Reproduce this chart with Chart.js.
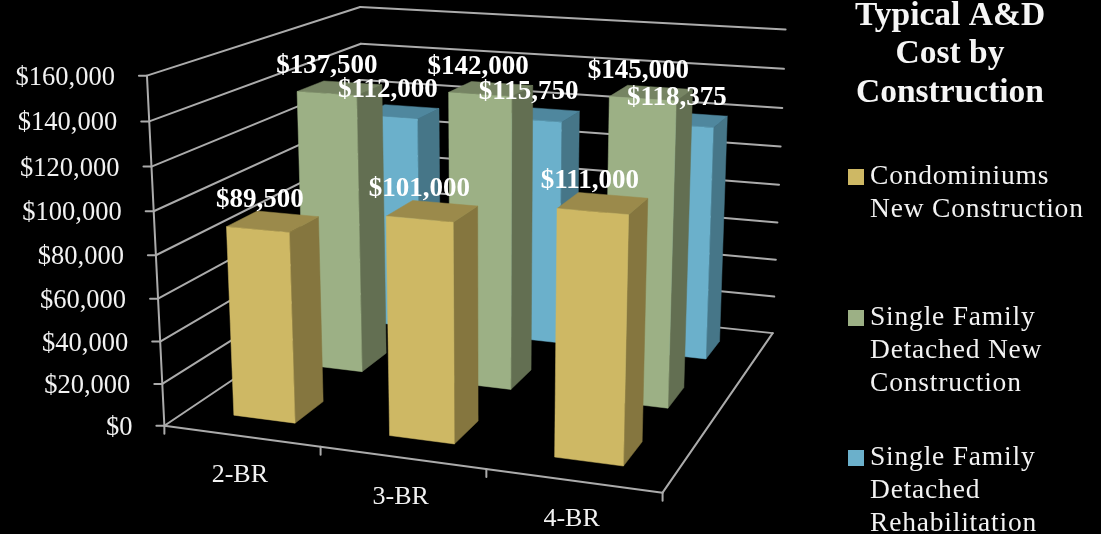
<!DOCTYPE html>
<html>
<head>
<meta charset="utf-8">
<title>Typical A&amp;D Cost by Construction</title>
<script src="https://cdn.jsdelivr.net/npm/chart.js@4"></script>
<style>
  html, body { margin: 0; padding: 0; background: #000; }
  canvas { display: block; }
</style>
</head>
<body>
<canvas id="chart" width="1101" height="534"></canvas>
<script>
const categories = ['2-BR', '3-BR', '4-BR'];
const seriesNames = ['Condominiums New Construction', 'Single Family Detached New Construction', 'Single Family Detached Rehabilitation'];
const condominiumsNew = [89500, 101000, 111000];
const singleFamilyNew = [137500, 142000, 145000];
const singleFamilyRehab = [112000, 115750, 118375];
const titleLines = ['Typical A&D', 'Cost by', 'Construction'];
const legendLines = [['Condominiums', 'New Construction'], ['Single Family', 'Detached New', 'Construction'], ['Single Family', 'Detached', 'Rehabilitation']];

const SERIF = '"Liberation Serif", serif';
const faces = [
  { front: '#CEB864', side: '#85763F', top: '#9B8A4B' },
  { front: '#9CB085', side: '#636F52', top: '#768463' },
  { front: '#6BB0CB', side: '#467688', top: '#4F879E' }
];
const frameColor = '#ABABAB';

// Camera calibration: where the corners of the unit plot box land on the canvas.
// Each entry is [across, depth, height, canvasX, canvasY].
const boxCorners = [
  [0, 0, 0, 163, 426], [1, 0, 0, 663, 492], [1, 1, 0, 772, 334], [0, 1, 0, 367, 290],
  [0, 0, 1, 148, 76], [1, 1, 1, 786, 29], [0, 1, 1, 359, 7]
];

function solveCamera(corners) {
  const rows = [], rhs = [];
  corners.forEach(([X, Y, Z, x, y]) => {
    rows.push([X, Y, Z, 1, 0, 0, 0, 0, -x * X, -x * Y, -x * Z]); rhs.push(x);
    rows.push([0, 0, 0, 0, X, Y, Z, 1, -y * X, -y * Y, -y * Z]); rhs.push(y);
  });
  const n = 11;
  const M = [];
  for (let i = 0; i < n; i++) {
    const row = new Array(n + 1).fill(0);
    rows.forEach((r, k) => {
      for (let j = 0; j < n; j++) row[j] += r[i] * r[j];
      row[n] += r[i] * rhs[k];
    });
    M.push(row);
  }
  for (let c = 0; c < n; c++) {
    let pivot = c;
    for (let r = c + 1; r < n; r++) if (Math.abs(M[r][c]) > Math.abs(M[pivot][c])) pivot = r;
    [M[c], M[pivot]] = [M[pivot], M[c]];
    for (let r = 0; r < n; r++) {
      if (r === c) continue;
      const f = M[r][c] / M[c][c];
      for (let j = c; j <= n; j++) M[r][j] -= f * M[c][j];
    }
  }
  return M.map((row, i) => row[n] / row[i]);
}
const cam = solveCamera(boxCorners);
function project(u, v, w) {
  const d = cam[8] * u + cam[9] * v + cam[10] * w + 1;
  return [
    (cam[0] * u + cam[1] * v + cam[2] * w + cam[3]) / d,
    (cam[4] * u + cam[5] * v + cam[6] * w + cam[7]) / d
  ];
}

const money = v => '$' + Number(v).toLocaleString('en-US');

// Fractions of the plot box.
function across(chart, px) { const a = chart.chartArea; return (px - a.left) / (a.right - a.left); }
function heightOf(chart, value) {
  const y = chart.scales.y;
  return (y.bottom - y.getPixelForValue(value)) / (y.bottom - y.top);
}
function depthOf(chart, seriesIndex) {
  const z = chart.scales.z;
  return (z.getPixelForTick(seriesIndex) - z.left) / (z.right - z.left);
}

function line(ctx, a, b) {
  ctx.beginPath(); ctx.moveTo(a[0], a[1]); ctx.lineTo(b[0], b[1]); ctx.stroke();
}
function quad(ctx, pts, color) {
  ctx.fillStyle = color; ctx.strokeStyle = color; ctx.lineWidth = 0.5;
  ctx.beginPath();
  pts.forEach((p, i) => i ? ctx.lineTo(p[0], p[1]) : ctx.moveTo(p[0], p[1]));
  ctx.closePath(); ctx.fill(); ctx.stroke();
}

function drawFrame(chart, ctx) {
  const y = chart.scales.y, x = chart.scales.x;
  ctx.save();
  ctx.strokeStyle = frameColor; ctx.lineWidth = 2; ctx.lineCap = 'round';
  y.ticks.forEach(t => {
    const w = heightOf(chart, t.value);
    const front = project(0, 0, w), back = project(0, 1, w), right = project(1, 1, w);
    line(ctx, front, back); line(ctx, back, right);
    line(ctx, [front[0] - 8, front[1]], front);
    ctx.fillStyle = '#F2F2F2';
    ctx.font = '26.5px ' + SERIF;
    ctx.textAlign = 'right'; ctx.textBaseline = 'middle';
    ctx.fillText(money(t.value), front[0] - 32, front[1] + 2);
  });
  line(ctx, project(0, 0, 0), project(0, 0, 1));
  line(ctx, project(0, 0, 0), project(1, 0, 0));
  line(ctx, project(1, 0, 0), project(1, 1, 0));
  for (let i = 0; i <= categories.length; i++) {
    const p = project(i / categories.length, 0, 0);
    line(ctx, p, [p[0], p[1] + 8]);
  }
  categories.forEach((c, i) => {
    const p = project(across(chart, x.getPixelForTick(i)), 0, 0);
    ctx.fillStyle = '#F2F2F2';
    ctx.font = '26px ' + SERIF;
    ctx.textAlign = 'center'; ctx.textBaseline = 'middle';
    ctx.fillText(c, p[0] - 1.5, p[1] + 39);
  });
  ctx.restore();
}

const barDepth = 0.4 / seriesNames.length;

function barGeometry(chart, s, i) {
  const bar = chart.getDatasetMeta(s).data[i];
  const u0 = across(chart, bar.x - bar.width / 2), u1 = across(chart, bar.x + bar.width / 2);
  const v = depthOf(chart, s);
  const w = heightOf(chart, chart.data.datasets[s].data[i]);
  return { u0, u1, uc: across(chart, bar.x), v0: v - barDepth / 2, v1: v + barDepth / 2, vc: v, w };
}

function drawBars(chart, ctx) {
  for (let s = chart.data.datasets.length - 1; s >= 0; s--) {
    chart.getDatasetMeta(s).data.forEach((_, i) => {
      const g = barGeometry(chart, s, i), c = faces[s];
      quad(ctx, [project(g.u1, g.v0, 0), project(g.u1, g.v1, 0), project(g.u1, g.v1, g.w), project(g.u1, g.v0, g.w)], c.side);
      quad(ctx, [project(g.u0, g.v0, g.w), project(g.u1, g.v0, g.w), project(g.u1, g.v1, g.w), project(g.u0, g.v1, g.w)], c.top);
      quad(ctx, [project(g.u0, g.v0, 0), project(g.u1, g.v0, 0), project(g.u1, g.v0, g.w), project(g.u0, g.v0, g.w)], c.front);
    });
  }
}

function drawValueLabels(chart, ctx) {
  ctx.save();
  ctx.fillStyle = '#FFFFFF';
  ctx.font = 'bold 27px ' + SERIF;
  ctx.textAlign = 'center'; ctx.textBaseline = 'middle';
  chart.data.datasets.forEach((ds, s) => {
    ds.data.forEach((value, i) => {
      const g = barGeometry(chart, s, i);
      const p = project(g.uc, g.vc, g.w);
      ctx.fillText(money(value), p[0] - 13, p[1] - 22);
    });
  });
  ctx.restore();
}

function drawKey(ctx) {
  ctx.save();
  ctx.fillStyle = '#F5F5F5';
  ctx.font = 'bold 33.5px ' + SERIF;
  ctx.textAlign = 'center'; ctx.textBaseline = 'middle';
  titleLines.forEach((t, i) => ctx.fillText(t, 950, 16 + i * 38.5));
  const tops = [177, 318, 458];
  ctx.textAlign = 'left';
  legendLines.forEach((lines, s) => {
    ctx.fillStyle = faces[s].front;
    ctx.fillRect(848, tops[s] - 8, 16, 16);
    ctx.fillStyle = '#F2F2F2';
    ctx.font = '27.5px ' + SERIF;
    ctx.letterSpacing = '0.8px';
    lines.forEach((t, i) => ctx.fillText(t, 870, tops[s] + i * 33));
  });
  ctx.restore();
}

const perspectiveBars = {
  id: 'perspectiveBars',
  beforeDatasetsDraw(chart) {
    const ctx = chart.ctx;
    ctx.fillStyle = '#000';
    ctx.fillRect(0, 0, chart.width, chart.height);
    drawFrame(chart, ctx);
    drawBars(chart, ctx);
  },
  beforeDatasetDraw() { return false; },
  afterDatasetsDraw(chart) {
    drawValueLabels(chart, chart.ctx);
    drawKey(chart.ctx);
  }
};

new Chart(document.getElementById('chart'), {
  type: 'bar',
  data: {
    labels: categories,
    datasets: [
      { label: seriesNames[0], data: condominiumsNew, backgroundColor: faces[0].front },
      { label: seriesNames[1], data: singleFamilyNew, backgroundColor: faces[1].front },
      { label: seriesNames[2], data: singleFamilyRehab, backgroundColor: faces[2].front }
    ]
  },
  options: {
    responsive: false,
    animation: false,
    grouped: false,
    barPercentage: 0.4,
    categoryPercentage: 1,
    plugins: { legend: { display: false }, tooltip: { enabled: false } },
    scales: {
      x: { display: false },
      z: { type: 'category', axis: 'x', labels: seriesNames, offset: true, display: false },
      y: { display: false, min: 0, max: 160000, ticks: { stepSize: 20000 } }
    }
  },
  plugins: [perspectiveBars]
});
</script>
</body>
</html>
